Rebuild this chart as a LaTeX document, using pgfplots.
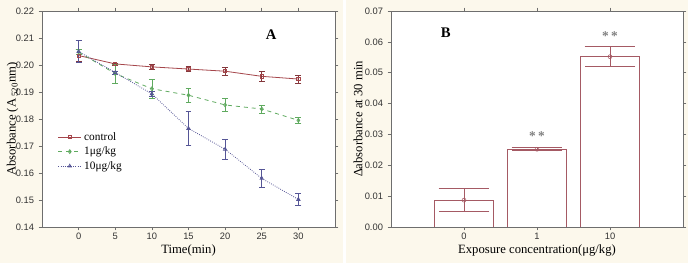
\documentclass[border=0pt]{standalone}
\usepackage{fontspec}
\setmainfont{Liberation Serif}
\setsansfont{Liberation Sans}
\usepackage{pgfplots}
\pgfplotsset{compat=1.18}
\definecolor{cream}{RGB}{252,248,236}
\definecolor{cctrl}{RGB}{165,70,75}
\definecolor{cgreen}{RGB}{95,170,95}
\definecolor{cblue}{RGB}{85,85,150}
\definecolor{axgray}{RGB}{110,110,110}
\definecolor{barred}{RGB}{165,90,100}
\pgfplotsset{mystyle/.style={
  scale only axis,
  axis background/.style={fill=white},
  axis line style={axgray, line width=0.6pt},
  tick style={axgray, line width=0.4pt},
  major tick length=2.5pt,
  tick align=outside,
  ticklabel style={font=\sffamily\fontsize{7}{8}\selectfont, text=black!80},
  x tick label style={yshift=1.5pt},
  label style={font=\fontsize{9.5}{11}\selectfont},
  /pgf/number format/assume math mode=true,
  scaled y ticks=false,
  y tick label style={/pgf/number format/fixed, /pgf/number format/fixed zerofill, /pgf/number format/precision=2},
}}
\begin{document}
\begin{tikzpicture}
\useasboundingbox (0,0) rectangle (516pt,197.25pt);
\fill[cream] (0,0) rectangle (257.25pt,197.25pt);
\fill[cream] (259.5pt,0) rectangle (516pt,197.25pt);

\begin{axis}[mystyle, at={(31.5pt,27pt)}, anchor=south west,
  width=219.75pt, height=162pt,
  xmin=-5, xmax=35, ymin=0.14, ymax=0.22,
  xtick={0,5,10,15,20,25,30},
  ytick={0.14,0.15,0.16,0.17,0.18,0.19,0.20,0.21,0.22},
  xlabel={Time(min)},
  xlabel style={at={(axis description cs:0.5,-0.108)}, anchor=center},
  ylabel={Absorbance (A\,\textsubscript{520}nm)},
  ylabel style={at={(axis description cs:-0.1,0.5)}, anchor=center},
  legend style={at={(0.04,0.465)}, anchor=north west, draw=none, fill=none,
    font=\fontsize{8.5}{9}\selectfont, row sep=-0.5pt},
  legend cell align=left,
]
\addplot[cctrl, line width=0.6pt, mark=square, mark size=1.2pt, mark options={solid, fill=white},
  error bars/.cd, y dir=both, y explicit,
  error bar style={line width=0.5pt, solid, cctrl!80!black},
  error mark options={rotate=90, mark size=2.2pt, line width=0.5pt, cctrl!80!black}]
coordinates {
(0,0.2035) +- (0,0.0023)
(5,0.2004) +- (0,0.0004)
(10,0.1993) +- (0,0.0008)
(15,0.1985) +- (0,0.0010)
(20,0.1977) +- (0,0.0016)
(25,0.1958) +- (0,0.0020)
(30,0.1948) +- (0,0.0015)
};
\addlegendentry{control}
\addplot[cgreen, line width=0.6pt, dashed, mark=diamond, mark size=1.4pt, mark options={solid, fill=white},
  error bars/.cd, y dir=both, y explicit,
  error bar style={line width=0.5pt, solid, cgreen},
  error mark options={rotate=90, mark size=2.2pt, line width=0.5pt, cgreen}]
coordinates {
(0,0.2048) +- (0,0.0010)
(5,0.1968) +- (0,0.0035)
(10,0.1912) +- (0,0.0035)
(15,0.1888) +- (0,0.0025)
(20,0.1852) +- (0,0.0025)
(25,0.1837) +- (0,0.0015)
(30,0.1795) +- (0,0.0012)
};
\addlegendentry{1μg/kg}
\addplot[cblue, line width=0.6pt, densely dotted, mark=triangle, mark size=1.4pt, mark options={solid, fill=white},
  error bars/.cd, y dir=both, y explicit,
  error bar style={line width=0.6pt, solid, cblue},
  error mark options={rotate=90, mark size=2.2pt, line width=0.6pt, cblue}]
coordinates {
(0,0.2050) +- (0,0.0040)
(5,0.1972) +- (0,0.0005)
(10,0.1893) +- (0,0.0010)
(15,0.1765) +- (0,0.0062)
(20,0.1688) +- (0,0.0037)
(25,0.1580) +- (0,0.0032)
(30,0.1502) +- (0,0.0023)
};
\addlegendentry{10μg/kg}
\node[font=\bfseries\fontsize{11}{12}\selectfont] at (axis cs:26.3,0.2112) {A};
\end{axis}

\begin{axis}[mystyle, at={(293.25pt,27pt)}, anchor=south west,
  width=219pt, height=162pt,
  xmin=-1, xmax=3, ymin=0, ymax=0.07,
  xtick={0,1,2}, xticklabels={0,1,10},
  ytick={0,0.01,0.02,0.03,0.04,0.05,0.06,0.07},
  xlabel={Exposure concentration(μg/kg)},
  xlabel style={at={(axis description cs:0.5,-0.108)}, anchor=center},
  ylabel={∆absorbance at 30 min},
  ylabel style={at={(axis description cs:-0.113,0.5)}, anchor=center},
]
\addplot[ybar, bar width=44pt, draw=barred, fill=white, line width=0.6pt]
coordinates {(0,0.0087) (1,0.0252) (2,0.0552)};
\addplot[only marks, barred, mark=o, mark size=1.5pt, mark options={fill=white},
  error bars/.cd, y dir=both, y explicit,
  error bar style={barred, line width=0.6pt},
  error mark options={rotate=90, mark size=19pt, barred, line width=0.6pt}]
coordinates {
(0,0.0087) +- (0,0.0037)
(1,0.0252) +- (0,0.0005)
(2,0.0552) +- (0,0.0033)
};
\node[font=\bfseries\fontsize{11}{12}\selectfont] at (axis cs:-0.25,0.0629) {B};
\node[text=gray, font=\bfseries\fontsize{10}{10}\selectfont] at (axis cs:1,0.0296) {*\,*};
\node[text=gray, font=\bfseries\fontsize{10}{10}\selectfont] at (axis cs:2,0.0620) {*\,*};
\end{axis}
\end{tikzpicture}
\end{document}
